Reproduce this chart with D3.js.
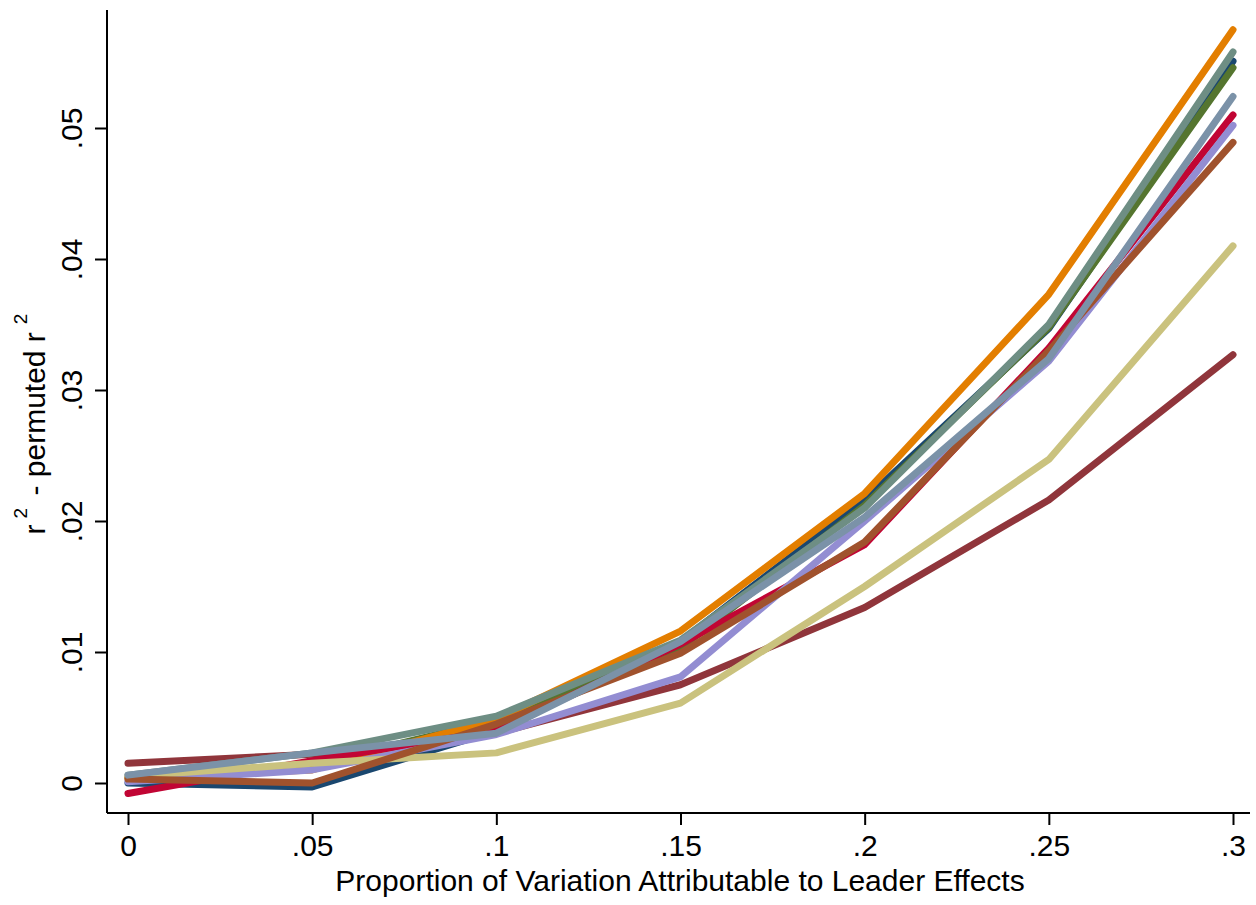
<!DOCTYPE html>
<html>
<head>
<meta charset="utf-8">
<script src="https://cdn.jsdelivr.net/npm/d3@7/dist/d3.min.js"></script>
<style>
  html, body { margin: 0; padding: 0; background: #fff; }
  svg { display: block; }
  text { font-family: "Liberation Sans", Arial, sans-serif; fill: #000; }
</style>
</head>
<body>
<script>
// ---- data ----
const xValues = [0, 0.05, 0.1, 0.15, 0.2, 0.25, 0.3];
const xTickValues = [0, 0.05, 0.1, 0.15, 0.2, 0.25, 0.3];
const xTickLabels = ["0", ".05", ".1", ".15", ".2", ".25", ".3"];
const yTickValues = [0, 0.01, 0.02, 0.03, 0.04, 0.05];
const yTickLabels = ["0", ".01", ".02", ".03", ".04", ".05"];

const seriesNames = ["navy", "maroon", "forest_green", "dkorange", "teal",
                     "cranberry", "lavender", "khaki", "sienna", "emidblue"];
const seriesColors = ["#1a476f", "#90353b", "#55752f", "#e37e00", "#6e8e84",
                      "#c10534", "#938dd2", "#cac27e", "#a0522d", "#7b92a8"];

const navy        = [0.0000, -0.0003, 0.0040, 0.0108, 0.0216, 0.0347, 0.0551];
const maroon      = [0.0015,  0.0022, 0.0038, 0.0075, 0.0134, 0.0216, 0.0327];
const forestGreen = [0.0004,  0.0014, 0.0048, 0.0103, 0.0212, 0.0348, 0.0546];
const dkorange    = [0.0004,  0.0010, 0.0049, 0.0116, 0.0221, 0.0373, 0.0575];
const teal        = [0.0006,  0.0023, 0.0051, 0.0109, 0.0210, 0.0350, 0.0558];
const cranberry   = [-0.0008, 0.0017, 0.0040, 0.0106, 0.0182, 0.0332, 0.0510];
const lavender    = [0.0001,  0.0010, 0.0037, 0.0081, 0.0200, 0.0322, 0.0502];
const khaki       = [0.0005,  0.0015, 0.0023, 0.0061, 0.0150, 0.0247, 0.0410];
const sienna      = [0.0003,  0.0000, 0.0045, 0.0099, 0.0184, 0.0330, 0.0489];
const emidblue    = [0.0006,  0.0023, 0.0038, 0.0108, 0.0203, 0.0324, 0.0524];

const seriesValues = [navy, maroon, forestGreen, dkorange, teal,
                      cranberry, lavender, khaki, sienna, emidblue];

const xTitle = "Proportion of Variation Attributable to Leader Effects";

// ---- layout ----
const W = 1256, H = 905;
const FONT = 30;
const svg = d3.select("body").append("svg").attr("width", W).attr("height", H);

const axisLeftX = 107, axisBottomY = 813;
const x = d3.scaleLinear().domain([0, 0.3]).range([128, 1233]);
const y = d3.scaleLinear().domain([0, 0.05]).range([783, 128]);

// lines
const line = d3.line().x((d, i) => x(xValues[i])).y(d => y(d));
const g = svg.append("g");
seriesValues.forEach((vals, k) => {
  g.append("path")
    .datum(vals)
    .attr("d", line)
    .attr("fill", "none")
    .attr("stroke", seriesColors[k])
    .attr("stroke-width", 7)
    .attr("stroke-linejoin", "round")
    .attr("stroke-linecap", "round")
    .attr("class", "series-" + seriesNames[k]);
});

// x axis
const xAxis = d3.axisBottom(x)
  .tickValues(xTickValues)
  .tickFormat((d, i) => xTickLabels[i])
  .tickSize(12).tickPadding(10).tickSizeOuter(0);
const xg = svg.append("g").attr("transform", `translate(0,${axisBottomY})`).call(xAxis);
xg.select(".domain").remove();
xg.append("line").attr("x1", axisLeftX).attr("x2", 1250).attr("y1", 0).attr("y2", 0)
  .attr("stroke", "#000").attr("stroke-width", 2);
xg.selectAll(".tick line").attr("stroke", "#000").attr("stroke-width", 2);
xg.selectAll(".tick text").attr("font-size", FONT).attr("fill", "#000")
  .attr("font-family", "Liberation Sans, Arial, sans-serif");

// y axis
const yAxis = d3.axisLeft(y)
  .tickValues(yTickValues)
  .tickFormat((d, i) => yTickLabels[i])
  .tickSize(12).tickPadding(4).tickSizeOuter(0);
const yg = svg.append("g").attr("transform", `translate(${axisLeftX},0)`).call(yAxis);
yg.select(".domain").remove();
yg.append("line").attr("x1", 0).attr("x2", 0).attr("y1", 10).attr("y2", axisBottomY)
  .attr("stroke", "#000").attr("stroke-width", 2);
yg.selectAll(".tick line").attr("stroke", "#000").attr("stroke-width", 2);
yg.selectAll(".tick text")
  .attr("font-size", FONT).attr("fill", "#000")
  .attr("font-family", "Liberation Sans, Arial, sans-serif")
  .attr("text-anchor", "middle")
  .attr("dy", 0)
  .attr("x", 0).attr("y", 0)
  .attr("transform", "translate(-25,0) rotate(-90)");

// axis titles
svg.append("text")
  .attr("x", 680).attr("y", 891)
  .attr("text-anchor", "middle")
  .attr("font-size", FONT)
  .text(xTitle);

const yt = svg.append("text")
  .attr("transform", "translate(45,424) rotate(-90)")
  .attr("text-anchor", "middle")
  .attr("font-size", FONT);
yt.append("tspan").text("r");
yt.append("tspan").attr("font-size", 19).attr("dy", -18).attr("dx", 6).text("2");
yt.append("tspan").attr("dy", 18).attr("dx", 4).text(" - permuted r");
yt.append("tspan").attr("font-size", 19).attr("dy", -18).attr("dx", 8).text("2");
</script>
</body>
</html>
